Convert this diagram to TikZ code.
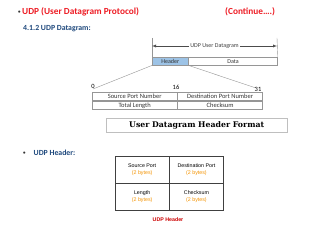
\documentclass[tikz,border=0pt]{standalone}
\usepackage{fontspec}
\setmainfont{Carlito}
\newfontfamily\serifdam{DejaVu Serif}
\newfontfamily\arialf{Liberation Sans}
\usepackage{xcolor}
\usepackage{tikz}
\usetikzlibrary{calc, positioning}

\definecolor{dotieude}{RGB}{237,28,36}
\definecolor{xanhdam}{RGB}{31,73,125}
\definecolor{xanhnhat}{RGB}{157,195,230}
\definecolor{xamvien}{RGB}{150,150,150}
\definecolor{camchu}{RGB}{243,146,0}
\definecolor{dochu}{RGB}{204,0,0}

\newcommand{\chamnho}{{\color{black!80}\raisebox{1pt}{\fontsize{5}{6}\selectfont\textbullet}}}

\tikzset{
    tieude/.style={anchor=west, text=dotieude, inner sep=0pt, font=\bfseries\fontsize{9.3}{11}\selectfont},
    mucnho/.style={anchor=west, text=xanhdam, inner sep=0pt, font=\bfseries\fontsize{7.8}{9}\selectfont},
    onho/.style={draw=xamvien, minimum width=85pt, minimum height=8.5pt, inner sep=0pt, text=black!80, font=\fontsize{6.5}{7}\selectfont},
    ogoi/.style={draw=xamvien, minimum height=8pt, inner sep=0pt, text=black!80, font=\fontsize{6}{7}\selectfont},
    oheader/.style={draw=black!75, line width=0.8pt, minimum width=53.5pt, minimum height=26.5pt, inner sep=0pt, align=center, font=\arialf\fontsize{5.3}{7}\selectfont}
}

\begin{document}
\begin{tikzpicture}[x=1pt, y=-1pt, >=latex]
    \useasboundingbox (0,0) rectangle (320,240);

    % Tiêu đề
    \node[tieude] (tieude1) at (18,12) {\chamnho\hspace{1.5pt}UDP (User Datagram Protocol)};
    \node[tieude] (tieude2) at (225,12) {(Continue….)};
    \node[mucnho] (muc1) at (23,29) {4.1.2 UDP Datagram:};

    % Gói UDP
    \node[ogoi, fill=xanhnhat, minimum width=36pt, anchor=north west] (header) at (152,57) {Header};
    \node[ogoi, minimum width=89pt, right=0pt of header] (data) {Data};
    \coordinate (moctrai) at (152,38);
    \coordinate (mocphai) at (277,38);
    \draw[xamvien] (moctrai) -- (header.north west);
    \draw[xamvien] (mocphai) -- (data.north east);
    \node[fill=white, inner sep=1pt, text=black!75, font=\fontsize{6}{7}\selectfont] (nhangoi) at (214.5,46) {UDP User Datagram};
    \draw[->, black!70] (nhangoi.west) -- (moctrai |- nhangoi);
    \draw[->, black!70] (nhangoi.east) -- (mocphai |- nhangoi);

    % Đường nối xuống bảng
    \coordinate (dau0) at (93,89);
    \coordinate (dau31) at (256,88);
    \draw[xamvien] (header.south west) -- (dau0);
    \draw[xamvien] (header.south east) -- (dau31);

    % Các mốc bit
    \node[inner sep=0pt, font=\fontsize{6.5}{7}\selectfont] (so0) at (93,86.5) {0};
    \node[inner sep=0pt, font=\fontsize{6.5}{7}\selectfont] (so16) at (176,87.5) {16};
    \node[inner sep=0pt, font=\fontsize{6.5}{7}\selectfont] (so31) at (258,89.5) {31};

    % Bảng tiêu đề
    \node[onho, anchor=north west] (nguon) at (92,92) {Source Port Number};
    \node[onho, right=0pt of nguon] (dich) {Destination Port Number};
    \node[onho, below=0pt of nguon] (tongdai) {Total Length};
    \node[onho, below=0pt of dich] (kiemtra) {Checksum};

    \node[draw=black!25, minimum width=181pt, minimum height=14pt, inner sep=0pt, font=\serifdam\bfseries\fontsize{7.8}{9}\selectfont, anchor=north west] (dinhdang) at (106,118) {User Datagram Header Format};

    % UDP Header
    \node[mucnho] (muc2) at (23,153) {\chamnho\hspace{8pt}UDP Header:};
    \node[oheader, anchor=north west] (cong1) at (115,156) {Source Port\\\textcolor{camchu}{(2 bytes)}};
    \node[oheader, right=0pt of cong1] (cong2) {Destination Port\\\textcolor{camchu}{(2 bytes)}};
    \node[oheader, below=0pt of cong1] (dodai) {Length\\\textcolor{camchu}{(2 bytes)}};
    \node[oheader, below=0pt of cong2] (tong) {Checksum\\\textcolor{camchu}{(2 bytes)}};
    \node[text=dochu, inner sep=0pt, font=\arialf\bfseries\fontsize{5.3}{6}\selectfont] (chuthich) at (168,220) {UDP Header};

\end{tikzpicture}
\end{document}
